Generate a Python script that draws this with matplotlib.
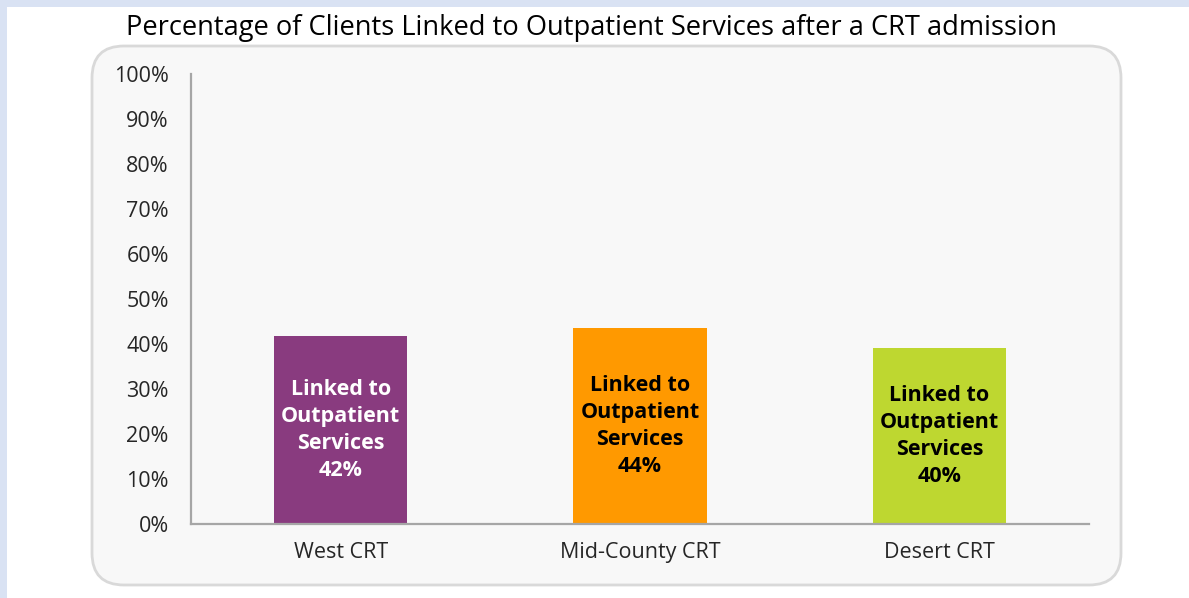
import matplotlib
matplotlib.use("Agg")
import matplotlib.pyplot as plt
from matplotlib.patches import FancyBboxPatch, Rectangle
from matplotlib.transforms import IdentityTransform

# data
sites = ["West CRT", "Mid-County CRT", "Desert CRT"]
linked_pct = [41.8, 43.6, 39.1]
pct_labels = ["42%", "44%", "40%"]
bar_colors = ["#893B7F", "#FF9900", "#BED730"]
label_colors = ["white", "black", "black"]
yticks = [0, 10, 20, 30, 40, 50, 60, 70, 80, 90, 100]

W, H = 1189, 598
plt.rcParams["font.family"] = ["Open Sans", "DejaVu Sans"]

fig = plt.figure(figsize=(W / 100, H / 100), dpi=100)
fig.patch.set_facecolor("white")

# light blue frame at top and left
fig.add_artist(Rectangle((0, H - 7), W, 7, transform=IdentityTransform(),
                         facecolor="#D9E2F3", edgecolor="none", zorder=0))
fig.add_artist(Rectangle((0, 0), 7, H, transform=IdentityTransform(),
                         facecolor="#D9E2F3", edgecolor="none", zorder=0))

# rounded chart area
box = FancyBboxPatch((92, H - 585), 1029, 539,
                     boxstyle="round,pad=0,rounding_size=32",
                     transform=IdentityTransform(),
                     facecolor="#F8F8F8", edgecolor="#D9D9D9", linewidth=2, zorder=0)
fig.add_artist(box)

fig.text(591 / W, 1 - 28 / H, "Percentage of Clients Linked to Outpatient Services after a CRT admission",
         ha="center", va="center", fontsize=19.6, color="black")

ax = fig.add_axes([191 / W, (H - 524) / H, (1089 - 191) / W, 450 / H])
ax.set_facecolor("none")

x = range(len(sites))
bars = ax.bar(x, linked_pct, width=0.445, color=bar_colors, zorder=2)

for i, b in enumerate(bars):
    ax.text(b.get_x() + b.get_width() / 2, b.get_height() / 2,
            "Linked to\nOutpatient\nServices\n" + pct_labels[i],
            ha="center", va="center", fontsize=15.5, fontweight="bold",
            color=label_colors[i], linespacing=1.36, zorder=3)

ax.set_xlim(-0.5, 2.5)
ax.set_ylim(0, 100)
ax.set_yticks(yticks)
ax.set_yticklabels([f"{t}%" for t in yticks])
ax.set_xticks(list(x))
ax.set_xticklabels(sites)
ax.tick_params(axis="both", length=0, labelsize=15.5, colors="#262626")
ax.tick_params(axis="y", pad=16)
ax.tick_params(axis="x", pad=13)

for s in ["top", "right"]:
    ax.spines[s].set_visible(False)
for s in ["left", "bottom"]:
    ax.spines[s].set_color("#A6A6A6")
    ax.spines[s].set_linewidth(1.6)

fig.savefig("out.png", dpi=100)
